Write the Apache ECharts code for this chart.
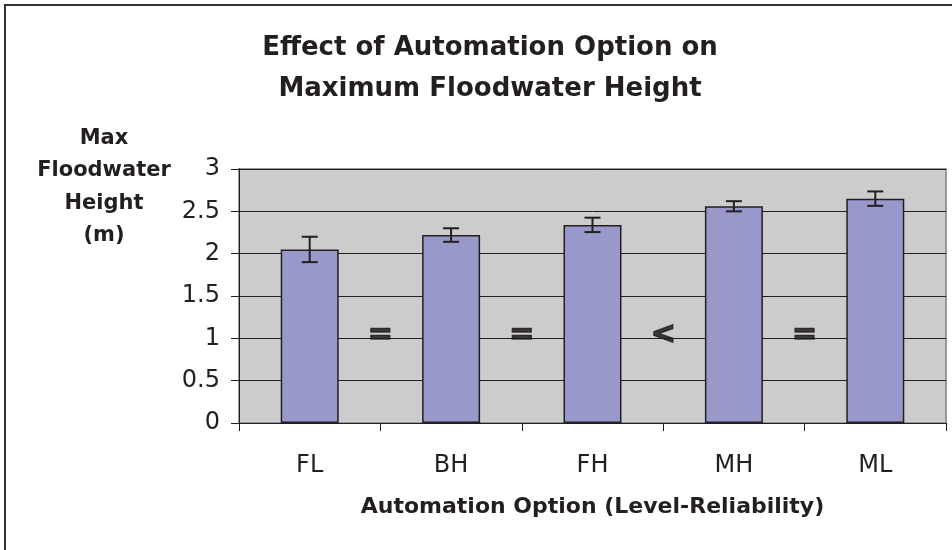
<!DOCTYPE html>
<html>
<head>
<meta charset="utf-8">
<script src="https://cdn.jsdelivr.net/npm/echarts@6/dist/echarts.min.js"></script>
<style>html,body{margin:0;padding:0;background:#fff}#c{width:952px;height:550px}</style>
</head>
<body>
<div id="c"></div>
<script>
const categories = ['FL', 'BH', 'FH', 'MH', 'ML'];
const values = [2.05, 2.22, 2.34, 2.56, 2.65];
const errors = [0.15, 0.08, 0.085, 0.06, 0.085];
const yTicks = [0, 0.5, 1, 1.5, 2, 2.5, 3];
const compareSymbols = ['=', '=', '<', '='];
const compareLevel = 1.04;

const chart = echarts.init(document.getElementById('c'), null, {renderer: 'canvas'});
const FONT = '"DejaVu Sans", sans-serif';

const symbolData = compareSymbols.map((s, i) => ({value: [i + 1, compareLevel], sym: s}));

chart.setOption({
  animation: false,
  backgroundColor: '#ffffff',
  title: {
    text: 'Effect of Automation Option on\nMaximum Floodwater Height',
    left: 485, top: 23, textAlign: 'center',
    textStyle: {fontFamily: FONT, fontSize: 26, fontWeight: 'bold', color: '#231f20', lineHeight: 41}
  },
  graphic: [
    {type: 'rect', shape: {x: 5, y: 5, width: 1000, height: 1000},
     style: {fill: 'none', stroke: '#333333', lineWidth: 2}, z: 100},
    {type: 'text', x: 104, y: 122,
     style: {text: 'Max\nFloodwater\nHeight\n(m)', textAlign: 'center', fill: '#231f20',
             font: 'bold 21px ' + FONT, lineHeight: 32.5}}
  ],
  grid: {left: 239, right: 6, top: 169, bottom: 127, show: true,
         backgroundColor: '#cccccc', borderColor: '#999999', borderWidth: 2},
  xAxis: [{
    type: 'category', data: categories,
    axisLine: {lineStyle: {color: '#231f20', width: 1}},
    axisTick: {show: true, length: 8, lineStyle: {color: '#231f20'}},
    axisLabel: {fontFamily: FONT, fontSize: 24, color: '#231f20', margin: 31},
    name: 'Automation Option (Level-Reliability)', nameLocation: 'middle', nameGap: 73,
    nameTextStyle: {fontFamily: FONT, fontSize: 22, fontWeight: 'bold', color: '#231f20'}
  }, {
    type: 'value', min: 0, max: 5, show: false
  }],
  yAxis: {
    type: 'value', min: 0, max: 3, interval: 0.5,
    axisLine: {show: true, lineStyle: {color: '#231f20', width: 1}},
    axisTick: {show: true, length: 8, lineStyle: {color: '#231f20'}},
    axisLabel: {fontFamily: FONT, fontSize: 24, color: '#231f20', margin: 19,
                formatter: v => yTicks.includes(v) ? String(v) : ''},
    splitLine: {show: true, lineStyle: {color: '#231f20', width: 1}}
  },
  series: [{
    type: 'bar', data: values, barWidth: '41%',
    itemStyle: {color: '#9898ca', borderColor: '#231f20', borderWidth: 1.5}
  }, {
    type: 'custom',
    data: values.map((v, i) => [i, v - errors[i], v + errors[i]]),
    renderItem: function (params, api) {
      const lo = api.coord([api.value(0), api.value(1)]);
      const hi = api.coord([api.value(0), api.value(2)]);
      const hw = 8;
      const st = {stroke: '#231f20', lineWidth: 2};
      return {type: 'group', children: [
        {type: 'line', shape: {x1: lo[0], y1: lo[1], x2: hi[0], y2: hi[1]}, style: st},
        {type: 'line', shape: {x1: lo[0] - hw, y1: lo[1], x2: lo[0] + hw, y2: lo[1]}, style: st},
        {type: 'line', shape: {x1: hi[0] - hw, y1: hi[1], x2: hi[0] + hw, y2: hi[1]}, style: st}
      ]};
    },
    z: 10
  }, {
    type: 'scatter', xAxisIndex: 1, data: symbolData, symbolSize: 0,
    label: {show: true, position: 'inside', formatter: p => p.data.sym,
            fontFamily: FONT, fontSize: 30, fontWeight: 'bold', color: '#1a1718',
            textBorderColor: '#1a1718', textBorderWidth: 1.5},
    z: 10
  }]
});
</script>
</body>
</html>
